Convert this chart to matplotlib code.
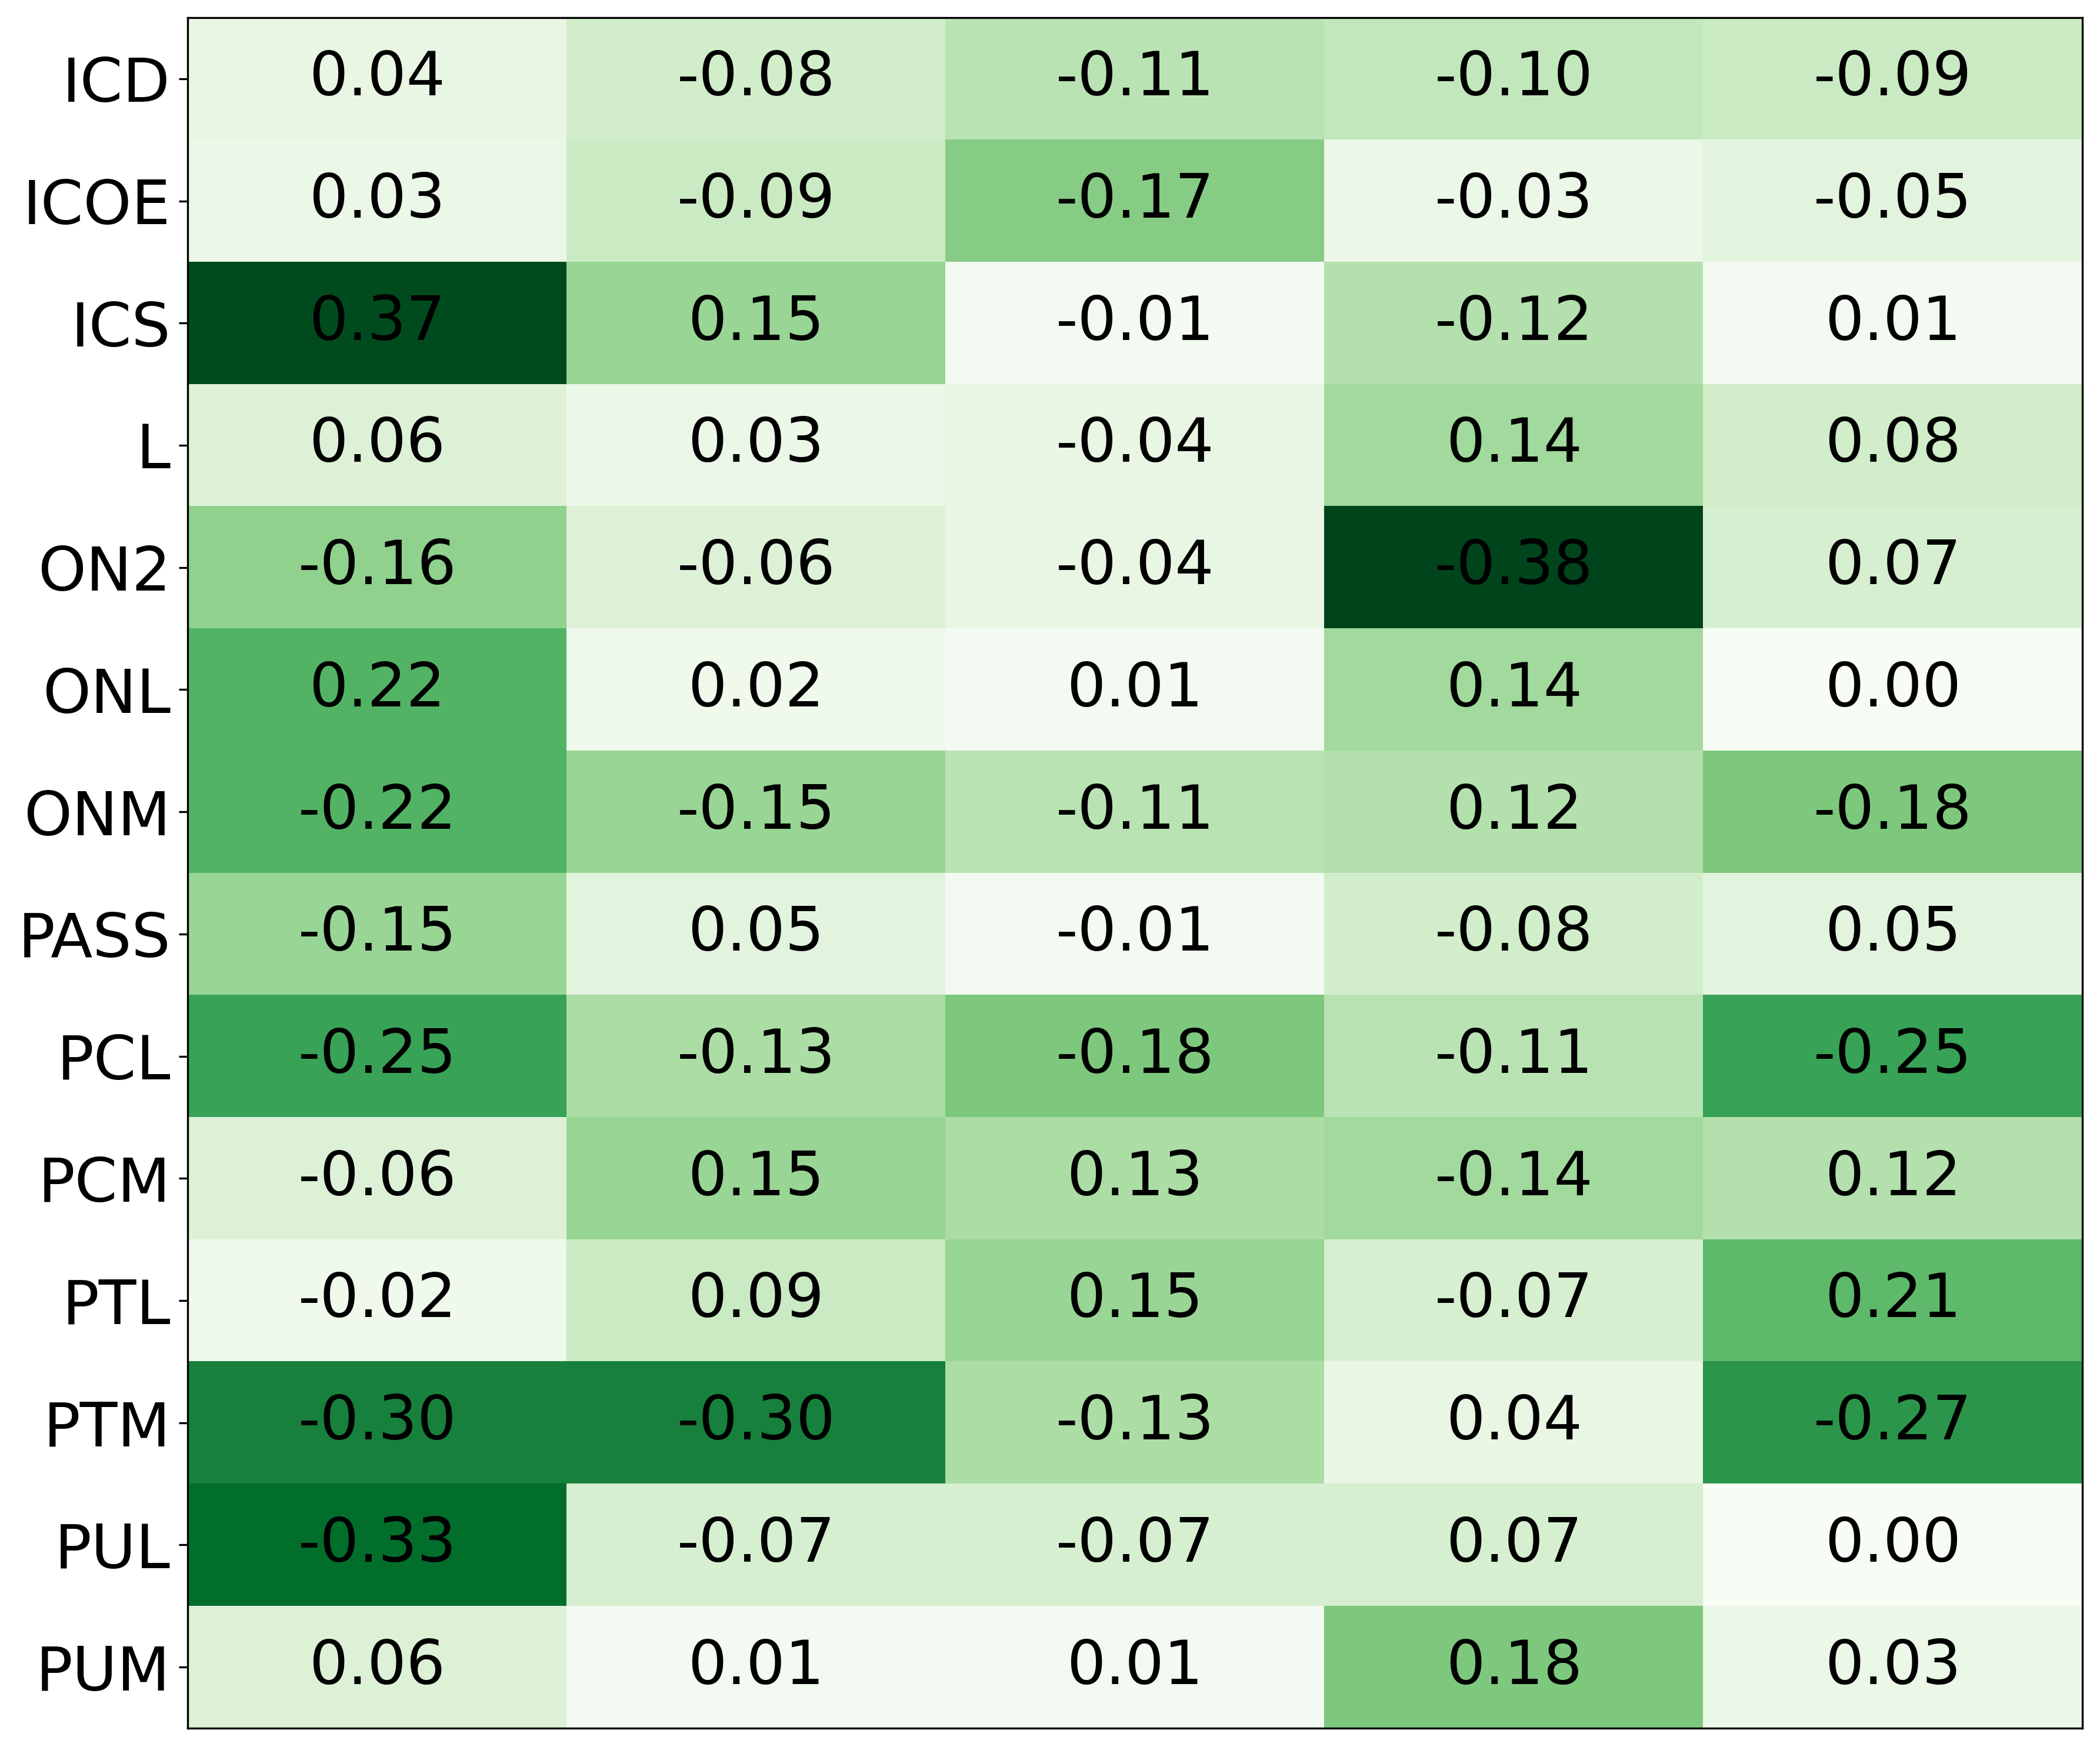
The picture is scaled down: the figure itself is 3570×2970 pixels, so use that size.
import numpy as np
import matplotlib
matplotlib.use("Agg")
from matplotlib import pyplot as plt

row_labels = ["ICD", "ICOE", "ICS", "L", "ON2", "ONL", "ONM",
              "PASS", "PCL", "PCM", "PTL", "PTM", "PUL", "PUM"]

col_1 = [0.04, 0.03, 0.37, 0.06, -0.16, 0.22, -0.22, -0.15, -0.25, -0.06, -0.02, -0.30, -0.33, 0.06]
col_2 = [-0.08, -0.09, 0.15, 0.03, -0.06, 0.02, -0.15, 0.05, -0.13, 0.15, 0.09, -0.30, -0.07, 0.01]
col_3 = [-0.11, -0.17, -0.01, -0.04, -0.04, 0.01, -0.11, -0.01, -0.18, 0.13, 0.15, -0.13, -0.07, 0.01]
col_4 = [-0.10, -0.03, -0.12, 0.14, -0.38, 0.14, 0.12, -0.08, -0.11, -0.14, -0.07, 0.04, 0.07, 0.18]
col_5 = [-0.09, -0.05, 0.01, 0.08, 0.07, 0.00, -0.18, 0.05, -0.25, 0.12, 0.21, -0.27, 0.00, 0.03]


def main():
    values = np.array([col_1, col_2, col_3, col_4, col_5]).T

    fig, ax = plt.subplots(figsize=(11.9, 9.9), dpi=300)
    fig.subplots_adjust(left=0.0894, right=0.9916, top=0.9899, bottom=0.0108)

    # colour by strength of correlation, sign ignored
    ax.imshow(np.abs(values), cmap="Greens", vmin=0, vmax=np.abs(values).max(),
              aspect="auto", interpolation="nearest")

    for i in range(values.shape[0]):
        for j in range(values.shape[1]):
            ax.text(j, i, f"{values[i, j]:.2f}", ha="center", va="center",
                    fontsize=25, color="black")

    ax.set_yticks(range(len(row_labels)))
    ax.set_yticklabels(row_labels, fontsize=25)
    ax.set_xticks([])

    plt.savefig("out.png", dpi=300)
    plt.close()


if __name__ == "__main__":
    main()
